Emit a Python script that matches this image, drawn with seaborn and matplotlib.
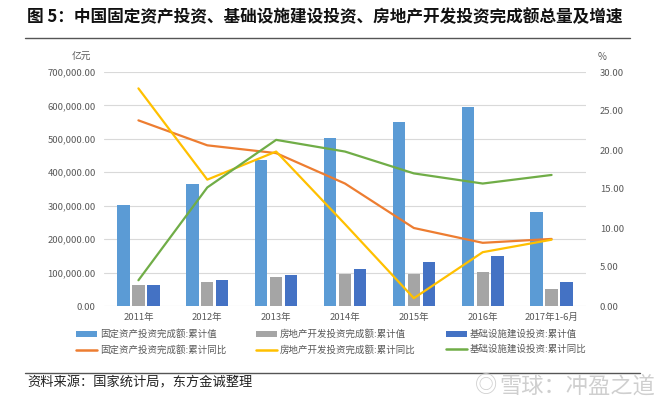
import matplotlib
matplotlib.use("Agg")
import matplotlib.pyplot as plt
import seaborn as sns
import pandas as pd
import numpy as np
from matplotlib.patches import Patch
from matplotlib.lines import Line2D
from matplotlib.ticker import FuncFormatter, MultipleLocator

sns.set_theme(style="white")
plt.rcParams['font.family'] = ['Noto Sans CJK SC', 'DejaVu Sans']

categories = ["2011年", "2012年", "2013年", "2014年", "2015年", "2016年", "2017年1-6月"]
fixed_total = [301000, 364000, 436000, 502000, 551000, 596000, 280600]
realestate_total = [61700, 71800, 86000, 95000, 96000, 102600, 50600]
infra_total = [64000, 77000, 92700, 110000, 131000, 149000, 71000]
fixed_yoy = [23.8, 20.6, 19.6, 15.7, 10.0, 8.1, 8.6]
realestate_yoy = [27.9, 16.2, 19.8, 10.5, 1.0, 6.9, 8.5]
infra_yoy = [3.3, 15.2, 21.3, 19.8, 17.0, 15.7, 16.8]

bar_names = ["固定资产投资完成额:累计值", "房地产开发投资完成额:累计值", "基础设施建设投资:累计值"]
line_names = ["固定资产投资完成额:累计同比", "房地产开发投资完成额:累计同比", "基础设施建设投资:累计同比"]
bar_colors = ["#5B9BD5", "#A5A5A5", "#4472C4"]
line_colors = ["#ED7D31", "#FFC000", "#70AD47"]

bars = pd.DataFrame({
    "cat": categories * 3,
    "series": [bar_names[0]] * 7 + [bar_names[1]] * 7 + [bar_names[2]] * 7,
    "value": fixed_total + realestate_total + infra_total,
})

fig = plt.figure(figsize=(6.6, 4.09), dpi=100)
ax = fig.add_axes([104 / 660, 1 - 306 / 409, 482 / 660, 234 / 409])

sns.barplot(data=bars, x="cat", y="value", hue="series", order=categories,
            hue_order=bar_names, palette=bar_colors, width=0.65, gap=0.17,
            saturation=1, legend=False, linewidth=0, ax=ax)
ax.set_xlim(-0.5, 6.5)
ax.set_ylim(0, 700000)
ax.yaxis.set_major_locator(MultipleLocator(100000))
ax.yaxis.set_major_formatter(FuncFormatter(lambda v, p: f"{v:,.2f}"))
ax.grid(axis="y", color="#D9D9D9", linewidth=0.8)
ax.set_axisbelow(True)
for s in ax.spines.values():
    s.set_visible(False)
ax.set_xlabel("")
ax.set_ylabel("")
ax.tick_params(axis="both", length=0, labelsize=6.8, labelcolor="#595959")
ax.tick_params(axis="x", pad=5)
ax.tick_params(axis="y", pad=6)

ax2 = ax.twinx()
for vals, col in zip([fixed_yoy, realestate_yoy, infra_yoy], line_colors):
    sns.lineplot(x=categories, y=vals, sort=False, color=col, linewidth=1.6, ax=ax2)
ax2.set_xlim(-0.5, 6.5)
ax2.set_ylim(0, 30)
ax2.yaxis.set_major_locator(MultipleLocator(5))
ax2.yaxis.set_major_formatter(FuncFormatter(lambda v, p: f"{v:.2f}"))
for s in ax2.spines.values():
    s.set_visible(False)
ax2.set_ylabel("")
ax2.tick_params(axis="y", length=0, labelsize=6.8, labelcolor="#595959", pad=10)
ax2.grid(False)

fig.text(72 / 660, 1 - 57 / 409, "亿元", fontsize=7, color="#595959", va="center")
fig.text(598 / 660, 1 - 57 / 409, "%", fontsize=7, color="#595959", va="center")

handles = []
for n, c in zip(bar_names, bar_colors):
    handles.append(Patch(facecolor=c, edgecolor="none", label=n))
for n, c in zip(line_names, line_colors):
    handles.append(Line2D([0], [0], color=c, linewidth=1.8, label=n))
order = [0, 3, 1, 4, 2, 5]
leg = fig.legend([handles[i] for i in order], [handles[i].get_label() for i in order],
                 ncol=3, loc="center", bbox_to_anchor=(0.502, 1 - 342 / 409),
                 frameon=False, fontsize=6.8, handlelength=2.2, handleheight=0.5,
                 handletextpad=0.3, columnspacing=3.2, labelspacing=0.6)
for t in leg.get_texts():
    t.set_color("#595959")

fig.text(27 / 660, 1 - 17 / 409, "图 5：中国固定资产投资、基础设施建设投资、房地产开发投资完成额总量及增速",
         fontsize=12, fontweight="bold", color="#111111", va="center", ha="left")
fig.add_artist(Line2D([25 / 660, 630 / 660], [1 - 38 / 409, 1 - 38 / 409],
                      color="#555555", linewidth=1.0))
fig.add_artist(Line2D([25 / 660, 640 / 660], [1 - 373 / 409, 1 - 373 / 409],
                      color="#555555", linewidth=1.0))
fig.text(27 / 660, 1 - 383 / 409, "资料来源：国家统计局，东方金诚整理",
         fontsize=9.5, color="#222222", va="center", ha="left")
fig.text(655 / 660, 1 - 386 / 409, "雪球：冲盈之道",
         fontsize=16, color="#CFCFCF", va="center", ha="right")
fig.text(497 / 660, 1 - 386 / 409, "◎",
         fontsize=16, color="#CFCFCF", va="center", ha="right")

fig.savefig("out.png", dpi=100)
